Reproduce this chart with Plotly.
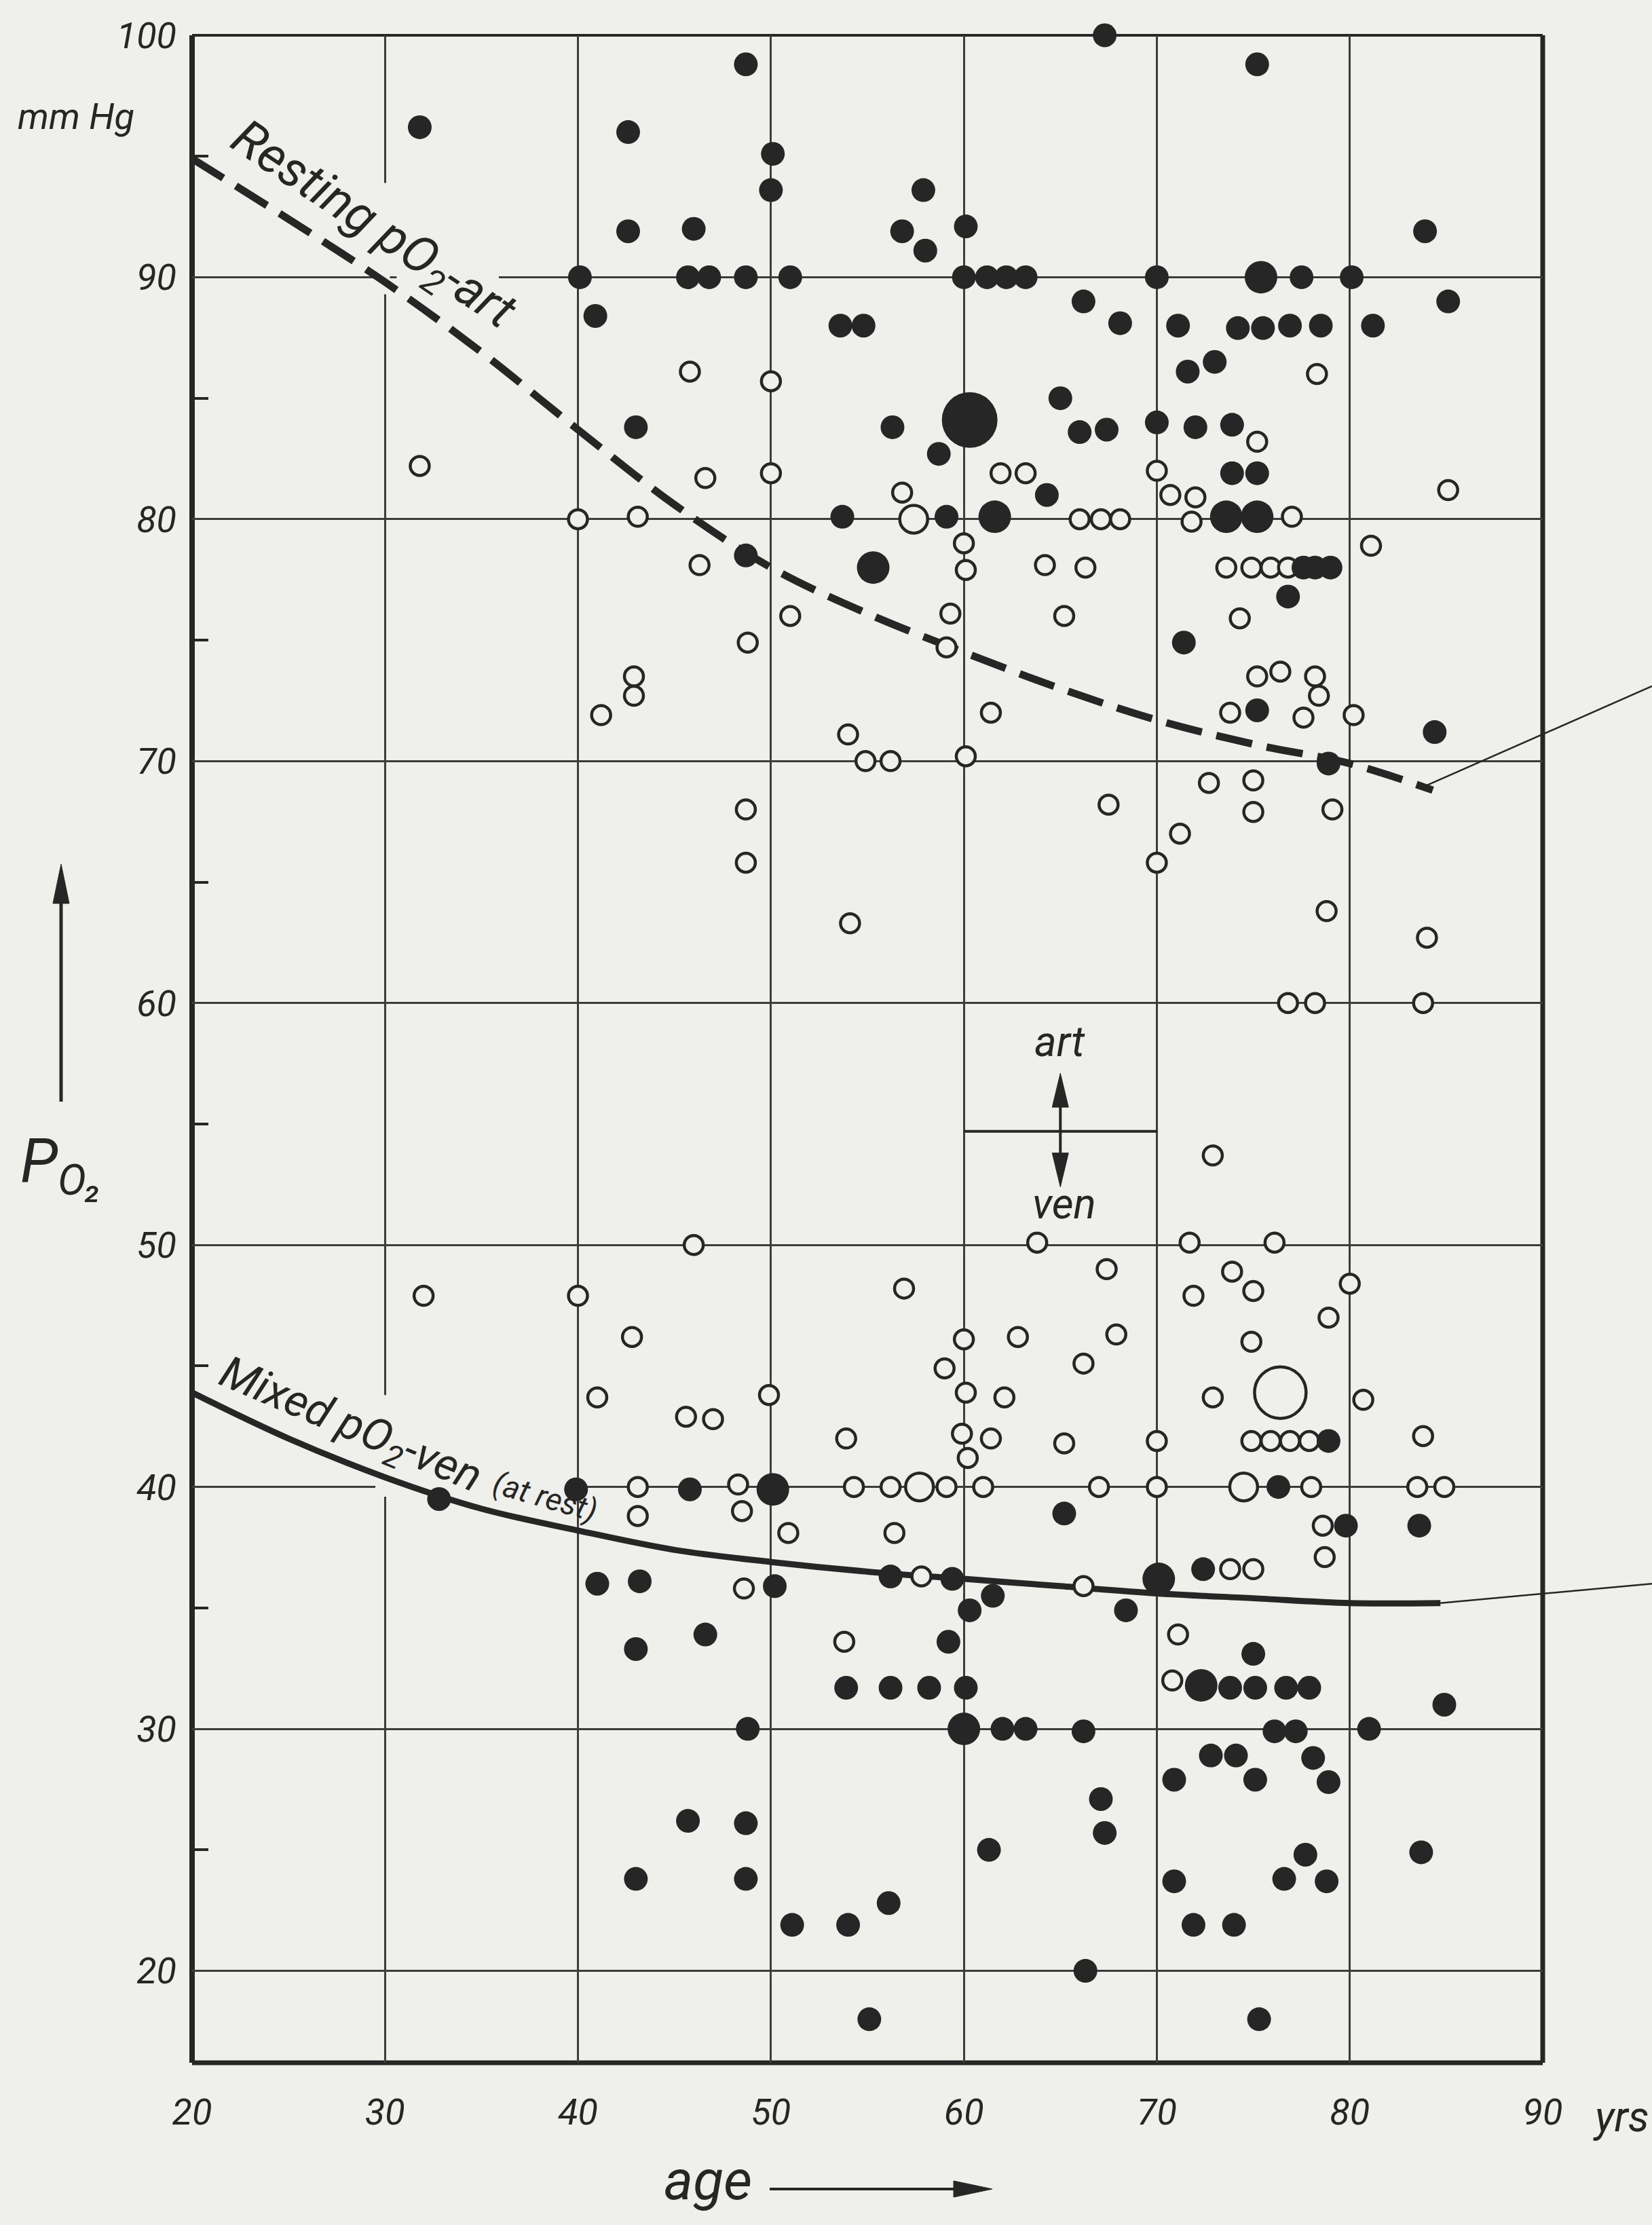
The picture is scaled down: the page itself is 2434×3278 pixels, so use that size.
import plotly.graph_objects as go

# ------------------------------------------------------------------ data
# filled circles (single observation)
filled_age = [31.8, 42.6, 42.6, 40.1, 40.9, 43.0, 48.7, 50.1, 50.0, 46.0, 45.7, 46.8, 48.7, 51.0,
              57.9, 56.8, 58.0, 60.1, 60.0, 61.2, 62.2, 63.2, 70.0, 66.2, 68.1, 53.6, 54.8, 56.3,
              65.0, 66.0, 67.4, 70.0, 58.7, 64.3, 53.7, 59.1, 48.7, 67.3, 75.2, 83.9, 77.5, 80.1,
              85.1, 71.1, 74.2, 75.5, 76.9, 78.5, 81.2, 71.6, 73.0, 72.0, 73.9, 73.9, 75.2, 77.6,
              78.2, 79.0, 76.8, 71.4, 75.2, 84.4, 78.9,
              32.8, 39.9, 41.0, 43.2, 43.0, 43.0, 45.8, 65.2, 50.2, 56.2, 59.4, 61.5, 60.3, 68.4,
              46.6, 59.2, 53.9, 56.2, 58.2, 60.1, 48.8, 62.0, 63.2, 66.2, 67.1, 67.3, 45.7, 48.7,
              61.3, 48.7, 56.1, 51.1, 54.0, 66.3, 55.1, 64.3, 78.9, 76.3, 79.8, 83.6, 72.4, 75.0,
              73.8, 75.1, 76.7, 77.9, 84.9, 76.1, 77.2, 81.0, 72.8, 74.1, 78.1, 70.9, 75.1, 78.9,
              77.7, 83.7, 76.6, 78.8, 70.9, 71.9, 74.0, 75.3, 73.9]
filled_po2 = [96.2, 96.0, 91.9, 90.0, 88.4, 83.8, 98.8, 95.1, 93.6, 92.0, 90.0, 90.0, 90.0, 90.0,
              93.6, 91.9, 91.1, 92.1, 90.0, 90.0, 90.0, 90.0, 90.0, 89.0, 88.1, 88.0, 88.0, 83.8,
              85.0, 83.6, 83.7, 84.0, 82.7, 81.0, 80.1, 80.1, 78.5, 100.0, 98.8, 91.9, 90.0, 90.0,
              89.0, 88.0, 87.9, 87.9, 88.0, 88.0, 88.0, 86.1, 86.5, 83.8, 83.9, 81.9, 81.9, 78.0,
              78.0, 78.0, 76.8, 74.9, 72.1, 71.2, 69.9,
              39.5, 39.9, 36.0, 36.1, 33.3, 23.8, 39.9, 38.9, 35.9, 36.3, 36.2, 35.5, 34.9, 34.9,
              33.9, 33.6, 31.7, 31.7, 31.7, 31.7, 30.0, 30.0, 30.0, 29.9, 27.1, 25.7, 26.2, 26.1,
              25.0, 23.8, 22.8, 21.9, 21.9, 20.0, 18.0, 15.0, 41.9, 40.0, 38.4, 38.4, 36.6, 33.1,
              31.7, 31.7, 31.7, 31.7, 31.0, 29.9, 29.9, 30.0, 28.9, 28.9, 28.8, 27.9, 27.9, 27.8,
              24.8, 24.9, 23.8, 23.7, 23.7, 21.9, 21.9, 18.0, 16.1]

# filled circles, two coinciding observations
filled2_age = [61.6, 55.3, 75.4, 73.6, 75.2, 50.1, 70.1, 72.3, 60.0]
filled2_po2 = [80.1, 78.0, 90.0, 80.1, 80.1, 39.9, 36.2, 31.8, 30.0]

# filled circles, several coinciding observations
filled3_age = [60.3]
filled3_po2 = [84.1]

# open circles (single observation)
open_age = [31.8, 40.0, 43.1, 42.9, 42.9, 41.2, 45.8, 50.0, 46.6, 50.0, 61.9, 63.2, 56.8, 66.0,
            67.1, 68.1, 70.0, 46.3, 60.0, 60.1, 64.2, 66.3, 65.2, 51.0, 59.3, 48.8, 59.1, 61.4,
            54.0, 54.9, 56.2, 60.1, 78.3, 75.2, 70.7, 72.0, 71.8, 77.0, 85.1, 81.1, 73.6, 74.9,
            75.9, 76.8, 74.3, 75.2, 76.4, 78.2, 78.4, 73.8, 77.6, 80.2, 72.7, 75.0, 75.0, 79.1,
            71.2, 70.0, 78.8, 84.0, 76.8, 78.2, 83.8, 48.7, 48.7, 54.1, 67.5,
            32.0, 40.0, 42.8, 41.0, 43.1, 43.1, 48.3, 54.3, 56.2, 59.1, 61.0, 67.0, 48.5, 50.9,
            56.4, 48.6, 57.8, 66.2, 53.8, 46.0, 63.8, 67.4, 56.9, 60.0, 62.8, 67.9, 59.0, 66.2,
            49.9, 60.1, 62.1, 45.6, 47.0, 53.9, 59.9, 61.4, 60.2, 65.2, 72.9, 71.7, 76.1, 73.9,
            71.9, 75.0, 80.0, 78.9, 74.9, 72.9, 80.7, 70.0, 74.9, 75.9, 76.9, 77.9, 83.8, 70.0,
            78.0, 83.5, 84.9, 78.6, 78.7, 73.8, 75.0, 71.1, 70.8]
open_po2 = [82.2, 80.0, 80.1, 73.5, 72.7, 71.9, 86.1, 85.7, 81.7, 81.9, 81.9, 81.9, 81.1, 80.0,
            80.0, 80.0, 82.0, 78.1, 79.0, 77.9, 78.1, 78.0, 76.0, 76.0, 76.1, 74.9, 74.7, 72.0,
            71.1, 70.0, 70.0, 70.2, 86.0, 83.2, 81.0, 80.9, 79.9, 80.1, 81.2, 78.9, 78.0, 78.0,
            78.0, 78.0, 75.9, 73.5, 73.7, 73.5, 72.7, 72.0, 71.8, 71.9, 69.1, 69.2, 67.9, 68.0,
            67.0, 65.8, 63.8, 62.7, 60.0, 60.0, 60.0, 68.0, 65.8, 63.3, 68.2,
            47.9, 47.9, 46.2, 43.7, 40.0, 38.8, 40.1, 40.0, 40.0, 40.0, 40.0, 40.0, 39.0, 38.1,
            38.1, 35.8, 36.3, 35.9, 33.6, 50.0, 50.1, 49.0, 48.2, 46.1, 46.2, 46.3, 44.9, 45.1,
            43.8, 43.9, 43.7, 42.9, 42.8, 42.0, 42.2, 42.0, 41.2, 41.8, 53.7, 50.1, 50.1, 48.9,
            47.9, 48.1, 48.4, 47.0, 46.0, 43.7, 43.6, 41.9, 41.9, 41.9, 41.9, 41.9, 42.1, 40.0,
            40.0, 40.0, 40.0, 38.4, 37.1, 36.6, 36.6, 33.9, 32.0]

# open circles, two coinciding observations
open2_age = [57.4, 57.7, 74.5]
open2_po2 = [80.0, 40.0, 40.0]

# open circles, several coinciding observations
open3_age = [76.4]
open3_po2 = [43.9]

# mean curves
art_curve_age = [20, 25, 30, 35, 40, 45, 50, 55, 60, 65, 70, 75, 80, 84.3]
art_curve_po2 = [94.9, 92.4, 89.8, 86.9, 83.7, 80.6, 78.0, 76.1, 74.5, 73.0, 71.7, 70.7, 69.9, 68.8]
ven_curve_age = [20, 25, 30, 35, 40, 45, 50, 55, 60, 65, 70, 75, 80, 84.7]
ven_curve_po2 = [43.9, 42.0, 40.4, 39.1, 38.2, 37.4, 36.9, 36.5, 36.2, 35.9, 35.6, 35.4, 35.2, 35.2]

# where the leader lines leave the page (P values at right page edge)
leader_end_po2 = [73.1, 36.0]
art_ven_border = 54.7
art_ven_arrow = [65.0, 52.4, 57.1]   # age, lower tip, upper tip

x_ticks = [20, 30, 40, 50, 60, 70, 80, 90]
x_ticktext = ["20", "30", "40", "50", "60", "70", "80", "90"]
y_ticks = [20, 30, 40, 50, 60, 70, 80, 90, 100]
y_ticktext = ["20", "30", "40", "50", "60", "70", "80", "90", "100"]

X_RANGE = [20, 90]
Y_RANGE = [16.2, 100]

# ------------------------------------------------------------------ style
W, H = 2434, 3278
ML, MR, MT, MB = 283, 161, 52, 239
BG = "#efefeb"
INK = "#262626"
GRID = "#3c3c3c"
FONT = "Roboto"
PLOT_W = W - ML - MR
PLOT_H = H - MT - MB
PX_PER_YR = PLOT_W / (X_RANGE[1] - X_RANGE[0])
PX_PER_MM = PLOT_H / (Y_RANGE[1] - Y_RANGE[0])


def xp(age):
    return (age - X_RANGE[0]) / (X_RANGE[1] - X_RANGE[0])


def yp(p):
    return (p - Y_RANGE[0]) / (Y_RANGE[1] - Y_RANGE[0])


def px2paper(px, py):
    return (px - ML) / PLOT_W, (H - MB - py) / PLOT_H


fig = go.Figure()

# curves
fig.add_trace(go.Scatter(x=art_curve_age, y=art_curve_po2, mode="lines",
                         line=dict(color=INK, width=11, dash="54px,22px", shape="spline"),
                         hoverinfo="skip", showlegend=False))
fig.add_trace(go.Scatter(x=ven_curve_age, y=ven_curve_po2, mode="lines",
                         line=dict(color=INK, width=9, shape="spline"),
                         hoverinfo="skip", showlegend=False))


def open_trace(a, p, size):
    return go.Scatter(x=a, y=p, mode="markers", cliponaxis=False, showlegend=False,
                      marker=dict(symbol="circle", size=size, color=BG,
                                  line=dict(color=INK, width=4.5)))


def filled_trace(a, p, size):
    return go.Scatter(x=a, y=p, mode="markers", cliponaxis=False, showlegend=False,
                      marker=dict(symbol="circle", size=size, color=INK,
                                  line=dict(width=0)))


fig.add_trace(open_trace(open_age, open_po2, 28))
fig.add_trace(open_trace(open2_age, open2_po2, 41))
fig.add_trace(open_trace(open3_age, open3_po2, 76))
fig.add_trace(filled_trace(filled_age, filled_po2, 35))
fig.add_trace(filled_trace(filled2_age, filled2_po2, 48))
fig.add_trace(filled_trace(filled3_age, filled3_po2, 82))

shapes = []
# gaps in the grid behind the curve labels
for (x0, x1, y0, y1) in [(30.6, 35.9, 89.7, 90.3), (29.75, 30.25, 89.3, 93.9),
                         (29.5, 39.6, 39.7, 40.3), (29.75, 30.25, 39.6, 43.8)]:
    shapes.append(dict(type="rect", xref="x", yref="y", x0=x0, x1=x1, y0=y0, y1=y1,
                       fillcolor=BG, line=dict(width=0), layer="between"))
# frame
shapes += [
    dict(type="line", xref="paper", yref="paper", x0=0, x1=0, y0=0, y1=1,
         line=dict(color=INK, width=8), layer="between"),
    dict(type="line", xref="paper", yref="paper", x0=0, x1=1, y0=0, y1=0,
         line=dict(color=INK, width=7), layer="between"),
    dict(type="line", xref="paper", yref="paper", x0=1, x1=1, y0=0, y1=1,
         line=dict(color=INK, width=7), layer="between"),
    dict(type="line", xref="paper", yref="paper", x0=0, x1=1, y0=1, y1=1,
         line=dict(color=INK, width=4), layer="between"),
]
# art / ven separator
shapes.append(dict(type="line", xref="x", yref="y", x0=60, x1=70, y0=art_ven_border,
                   y1=art_ven_border, line=dict(color=INK, width=4), layer="between"))
# leader lines to the right
page_right, _ = px2paper(W, 0)
shapes.append(dict(type="line", xref="paper", yref="paper",
                   x0=xp(art_curve_age[-1] - 0.3), y0=yp(art_curve_po2[-1] + 0.2),
                   x1=page_right, y1=yp(leader_end_po2[0]),
                   line=dict(color=INK, width=2.5)))
shapes.append(dict(type="line", xref="paper", yref="paper",
                   x0=xp(ven_curve_age[-1]), y0=yp(ven_curve_po2[-1]),
                   x1=page_right, y1=yp(leader_end_po2[1]),
                   line=dict(color=INK, width=2.5)))


def arrow_px(tail, tip, head_len, head_half, width):
    """Arrow drawn in page pixels, returned as paper-referenced shapes."""
    (tx, ty), (hx, hy) = tail, tip
    dx, dy = hx - tx, hy - ty
    n = (dx * dx + dy * dy) ** 0.5
    ux, uy = dx / n, dy / n
    bx, by = hx - ux * head_len, hy - uy * head_len
    px_, py_ = -uy * head_half, ux * head_half
    pts = [px2paper(hx, hy), px2paper(bx + px_, by + py_), px2paper(bx - px_, by - py_)]
    a0 = px2paper(tx, ty)
    a1 = px2paper(bx + ux * 2, by + uy * 2)
    path = "M {:.5f},{:.5f} L {:.5f},{:.5f} L {:.5f},{:.5f} Z".format(
        pts[0][0], pts[0][1], pts[1][0], pts[1][1], pts[2][0], pts[2][1])
    return [dict(type="line", xref="paper", yref="paper", x0=a0[0], y0=a0[1], x1=a1[0],
                 y1=a1[1], line=dict(color=INK, width=width)),
            dict(type="path", xref="paper", yref="paper", path=path, fillcolor=INK,
                 line=dict(color=INK, width=1))]


def data_to_px(age, p):
    return ML + (age - X_RANGE[0]) * PX_PER_YR, MT + (Y_RANGE[1] - p) * PX_PER_MM


# double arrow art / ven
mid = data_to_px(art_ven_arrow[0], art_ven_border)
shapes += arrow_px(mid, data_to_px(art_ven_arrow[0], art_ven_arrow[2]), 50, 12, 4)
shapes += arrow_px(mid, data_to_px(art_ven_arrow[0], art_ven_arrow[1]), 50, 12, 4)
# axis arrows
shapes += arrow_px((90, 1623), (90, 1273), 58, 12, 5)
shapes += arrow_px((1134, 3225), (1462, 3225), 57, 12, 4)


def ital(s):
    return dict(family=FONT, size=s, color=INK, style="italic")


def label(text, x, y, size, xref="x", yref="y", angle=0):
    return dict(text=text, x=x, y=y, xref=xref, yref=yref, showarrow=False,
                textangle=angle, font=ital(size), xanchor="center", yanchor="middle")


def page_label(text, px, py, size):
    x, y = px2paper(px, py)
    return label(text, x, y, size, "paper", "paper")


annotations = []
# curve labels
annotations.append(label("Resting pO<sub>2</sub>-art", 29.35, 92.1, 74, angle=34))
annotations.append(label("Mixed pO<sub>2</sub>-ven", 28.2, 42.5, 66, angle=23))
annotations.append(label("(at rest)", 38.3, 39.6, 46, angle=16))
# art / ven
annotations.append(label("art", 65.0, 58.4, 62))
annotations.append(label("ven", 65.2, 51.7, 62))
# axis texts
annotations.append(page_label("mm Hg", 112, 172, 54))
annotations.append(page_label("P<sub>O₂</sub>", 90, 1716, 90))
annotations.append(page_label("age", 1043, 3212, 82))
annotations.append(page_label("yrs", 2388, 3118, 62))

fig.update_layout(
    width=W, height=H,
    margin=dict(l=ML, r=MR, t=MT, b=MB, pad=0),
    paper_bgcolor=BG, plot_bgcolor=BG,
    showlegend=False,
    shapes=shapes,
    annotations=annotations,
    xaxis=dict(range=X_RANGE, tickvals=x_ticks, ticktext=x_ticktext, ticks="",
               showgrid=True, gridcolor=GRID, gridwidth=3, zeroline=False, showline=False,
               tickfont=ital(54), ticklabelstandoff=36),
    yaxis=dict(range=Y_RANGE, tickvals=y_ticks, ticktext=y_ticktext, ticks="",
               showgrid=True, gridcolor=GRID, gridwidth=3, zeroline=False, showline=False,
               tickfont=ital(54), ticklabelstandoff=22,
               minor=dict(tickmode="linear", tick0=5, dtick=10, ticks="inside", ticklen=24,
                          tickwidth=4, tickcolor=INK, showgrid=False)),
)

fig.write_html("out.html", config={"displayModeBar": False},
               post_script="document.body.style.margin='0px';"
                           "document.body.style.background='" + BG + "';")
